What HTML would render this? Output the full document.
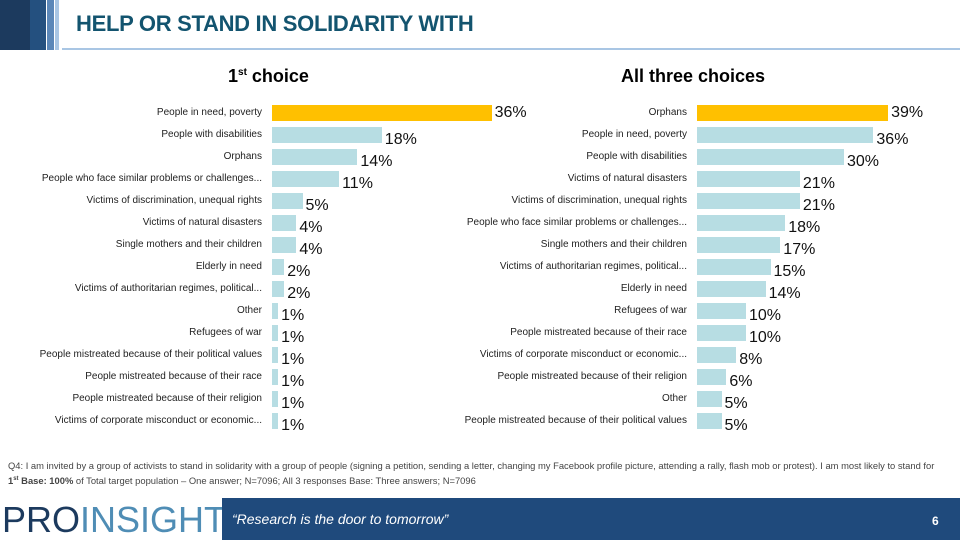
<!DOCTYPE html>
<html><head><meta charset="utf-8"><style>
body{margin:0;width:960px;height:540px;overflow:hidden;background:#fff;font-family:"Liberation Sans",sans-serif;position:relative}
.abs{position:absolute}
.lbl{position:absolute;font-size:10px;color:#222;text-align:right;white-space:nowrap}
.val{position:absolute;font-size:16px;color:#111;white-space:nowrap}
.bar{position:absolute;height:16px}
</style></head><body>
<div class="abs" style="left:0;top:0;width:30px;height:50px;background:#1c3a5e"></div>
<div class="abs" style="left:30px;top:0;width:16px;height:50px;background:#24507f"></div>
<div class="abs" style="left:47px;top:0;width:7px;height:50px;background:#5b87b8"></div>
<div class="abs" style="left:55px;top:0;width:4px;height:50px;background:#a9c6e4"></div>
<div class="abs" style="left:62px;top:48px;width:898px;height:2px;background:#a9c6e4"></div>
<div class="abs" style="left:76px;top:11px;font-size:22px;font-weight:bold;color:#13546f;letter-spacing:-0.3px">HELP OR STAND IN SOLIDARITY WITH</div>
<div class="abs" style="left:228px;top:66px;font-size:18px;font-weight:bold">1<sup style="font-size:10px">st</sup> choice</div>
<div class="abs" style="left:621px;top:66px;font-size:18px;font-weight:bold">All three choices</div>
<div id="charts"></div>
<div class="abs" style="left:8px;top:460px;width:935px;font-size:9.4px;color:#444;line-height:12.5px">Q4: I am invited by a group of activists to stand in solidarity with a group of people (signing a petition, sending a letter, changing my Facebook profile picture, attending a rally, flash mob or protest). I am most likely to stand for<br><b>1<sup style="font-size:6px">st</sup> Base: 100%</b> of Total target population – One answer; N=7096; All 3 responses Base: Three answers; N=7096</div>
<div class="abs" style="left:2px;top:499px;font-size:36px;letter-spacing:0px;line-height:42px"><span style="color:#1c3a5e">PRO</span><span style="color:#4f8db5">INSIGHT</span></div>
<div class="abs" style="left:222px;top:498px;width:738px;height:42px;background:#1f4a7c"></div>
<div class="abs" style="left:232px;top:511px;font-size:14px;font-style:italic;color:#fff">“Research is the door to tomorrow”</div>
<div class="abs" style="left:932px;top:514px;font-size:12px;font-weight:bold;color:#fff">6</div>
<script>
const leftCats=["People in need, poverty","People with disabilities","Orphans","People who face similar problems or challenges...","Victims of discrimination, unequal rights","Victims of natural disasters","Single mothers and their children","Elderly in need","Victims of authoritarian regimes, political...","Other","Refugees of war","People mistreated because of their political values","People mistreated because of their race","People mistreated because of their religion","Victims of corporate misconduct or economic..."];
const leftVals=[36,18,14,11,5,4,4,2,2,1,1,1,1,1,1];
const rightCats=["Orphans","People in need, poverty","People with disabilities","Victims of natural disasters","Victims of discrimination, unequal rights","People who face similar problems or challenges...","Single mothers and their children","Victims of authoritarian regimes, political...","Elderly in need","Refugees of war","People mistreated because of their race","Victims of corporate misconduct or economic...","People mistreated because of their religion","Other","People mistreated because of their political values"];
const rightVals=[39,36,30,21,21,18,17,15,14,10,10,8,6,5,5];
const root=document.getElementById('charts');
function draw(cats,vals,x0,scale,labelRight){
  cats.forEach((c,i)=>{
    const yc=113+i*22;
    const l=document.createElement('div');l.className='lbl';
    
    
    l.style.right=(960-labelRight)+'px';l.style.top=(yc-6)+'px';l.textContent=c;root.appendChild(l);
    const b=document.createElement('div');b.className='bar';
    
    
    const w=Math.max(vals[i]*scale,2);
    b.style.left=x0+'px';b.style.top=(yc-8)+'px';b.style.width=w+'px';
    b.style.background=i===0?'#ffc000':'#b7dde3';root.appendChild(b);
    const v=document.createElement('div');v.className='val';
    
    
    v.style.left=(x0+w+3)+'px';v.style.top=(yc-9+(i===0?0:5))+'px';v.textContent=vals[i]+'%';root.appendChild(v);
  });
}
draw(leftCats,leftVals,272,6.1,262);
draw(rightCats,rightVals,697,4.9,687);
</script>
</body></html>
